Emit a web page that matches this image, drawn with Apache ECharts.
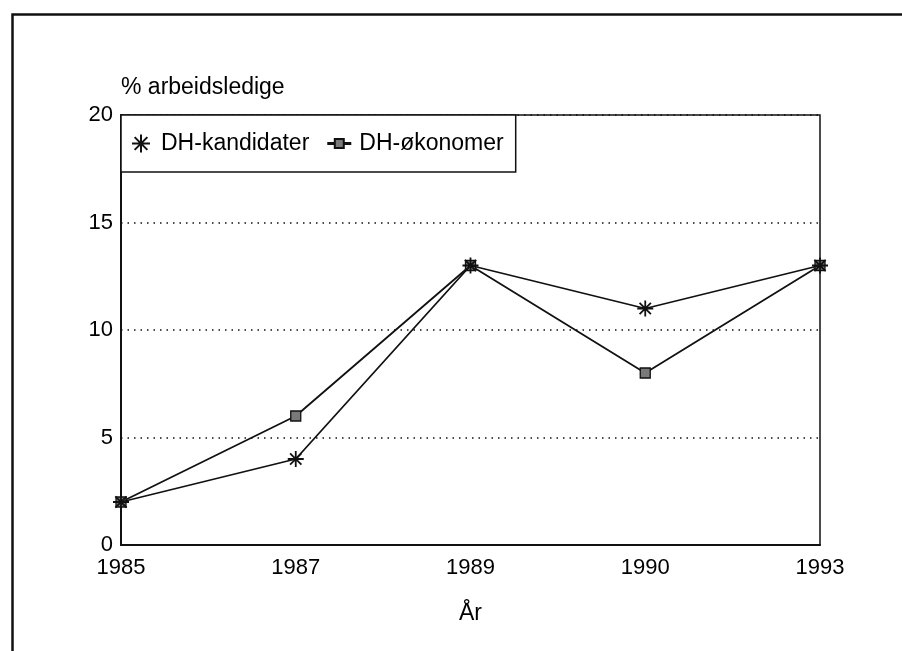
<!DOCTYPE html>
<html><head><meta charset="utf-8">
<script src="https://cdn.jsdelivr.net/npm/echarts@6/dist/echarts.min.js"></script>
<style>html,body{margin:0;padding:0;background:#fff}#c{width:902px;height:651px}</style>
</head><body><div id="c"></div>
<script>
const years = ['1985', '1987', '1989', '1990', '1993'];
const kandidater = [2, 4, 13, 11, 13];
const okonomer = [2, 6, 13, 8, 13];
const yMin = 0, yMax = 20, yStep = 5;
const seriesNames = ['DH-kandidater', 'DH-økonomer'];
const yTitle = '% arbeidsledige';
const xTitle = 'År';

const FONT = "'Liberation Sans', Arial, Helvetica, sans-serif";
const STAR = 'path://M10 0 L10 20 M0 10 L20 10 M2.93 2.93 L17.07 17.07 M17.07 2.93 L2.93 17.07';
const LINE_SQUARE = 'path://M0 8.5 L6.5 8.5 L6.5 4.5 L15.5 4.5 L15.5 8.5 L22 8.5 L22 9.5 L15.5 9.5 L15.5 13.5 L6.5 13.5 L6.5 9.5 L0 9.5 Z';

const chart = echarts.init(document.getElementById('c'), null, {renderer: 'canvas'});
chart.setOption({
  backgroundColor: '#ffffff',
  animation: false,
  textStyle: {fontFamily: FONT, color: '#000'},
  grid: {left: 121, top: 115, right: 82, bottom: 106, show: true, borderColor: '#111', borderWidth: 1.5, backgroundColor: 'transparent'},
  graphic: [{
    type: 'rect', left: 10, top: 12, silent: true, z: 100,
    shape: {width: 1000, height: 1000},
    style: {fill: 'none', stroke: '#111', lineWidth: 2.5}
  }],
  legend: {
    left: 121, top: 115,
    orient: 'horizontal',
    backgroundColor: '#ffffff',
    borderColor: '#111', borderWidth: 1.5,
    padding: [17, 12, 17, 10],
    itemGap: 18,
    itemWidth: 22, itemHeight: 18,
    textStyle: {fontFamily: FONT, fontSize: 23, color: '#000', padding: [0, 0, 0, 4]},
    data: [
      {name: seriesNames[0], icon: STAR},
      {name: seriesNames[1], icon: LINE_SQUARE}
    ]
  },
  xAxis: {
    type: 'category', data: years, boundaryGap: false,
    name: xTitle, nameLocation: 'middle', nameGap: 57,
    nameTextStyle: {fontFamily: FONT, fontSize: 23, color: '#000'},
    axisLine: {show: true, lineStyle: {color: '#111', width: 2}},
    axisTick: {show: false},
    axisLabel: {fontFamily: FONT, fontSize: 22, color: '#000', margin: 12},
    splitLine: {show: false}
  },
  yAxis: {
    type: 'value', min: yMin, max: yMax, interval: yStep,
    name: yTitle, nameLocation: 'end', nameGap: 16,
    nameTextStyle: {fontFamily: FONT, fontSize: 23, color: '#000', align: 'left', verticalAlign: 'bottom'},
    axisLine: {show: true, lineStyle: {color: '#111', width: 2}},
    axisTick: {show: false},
    axisLabel: {fontFamily: FONT, fontSize: 22, color: '#000', margin: 8},
    splitLine: {show: true, lineStyle: {color: '#111', width: 1.5, type: [1.5, 5]}}
  },
  series: [
    {
      name: seriesNames[0], type: 'line', data: kandidater,
      symbol: STAR, symbolSize: 16, showAllSymbol: true,
      lineStyle: {color: '#111', width: 1.8},
      itemStyle: {color: '#111', borderColor: '#111', borderWidth: 1.8},
      z: 3
    },
    {
      name: seriesNames[1], type: 'line', data: okonomer,
      symbol: 'rect', symbolSize: 10, showAllSymbol: true,
      lineStyle: {color: '#111', width: 1.8},
      itemStyle: {color: '#7a7a7a', borderColor: '#111', borderWidth: 1.3},
      z: 2
    }
  ]
});
</script></body></html>
